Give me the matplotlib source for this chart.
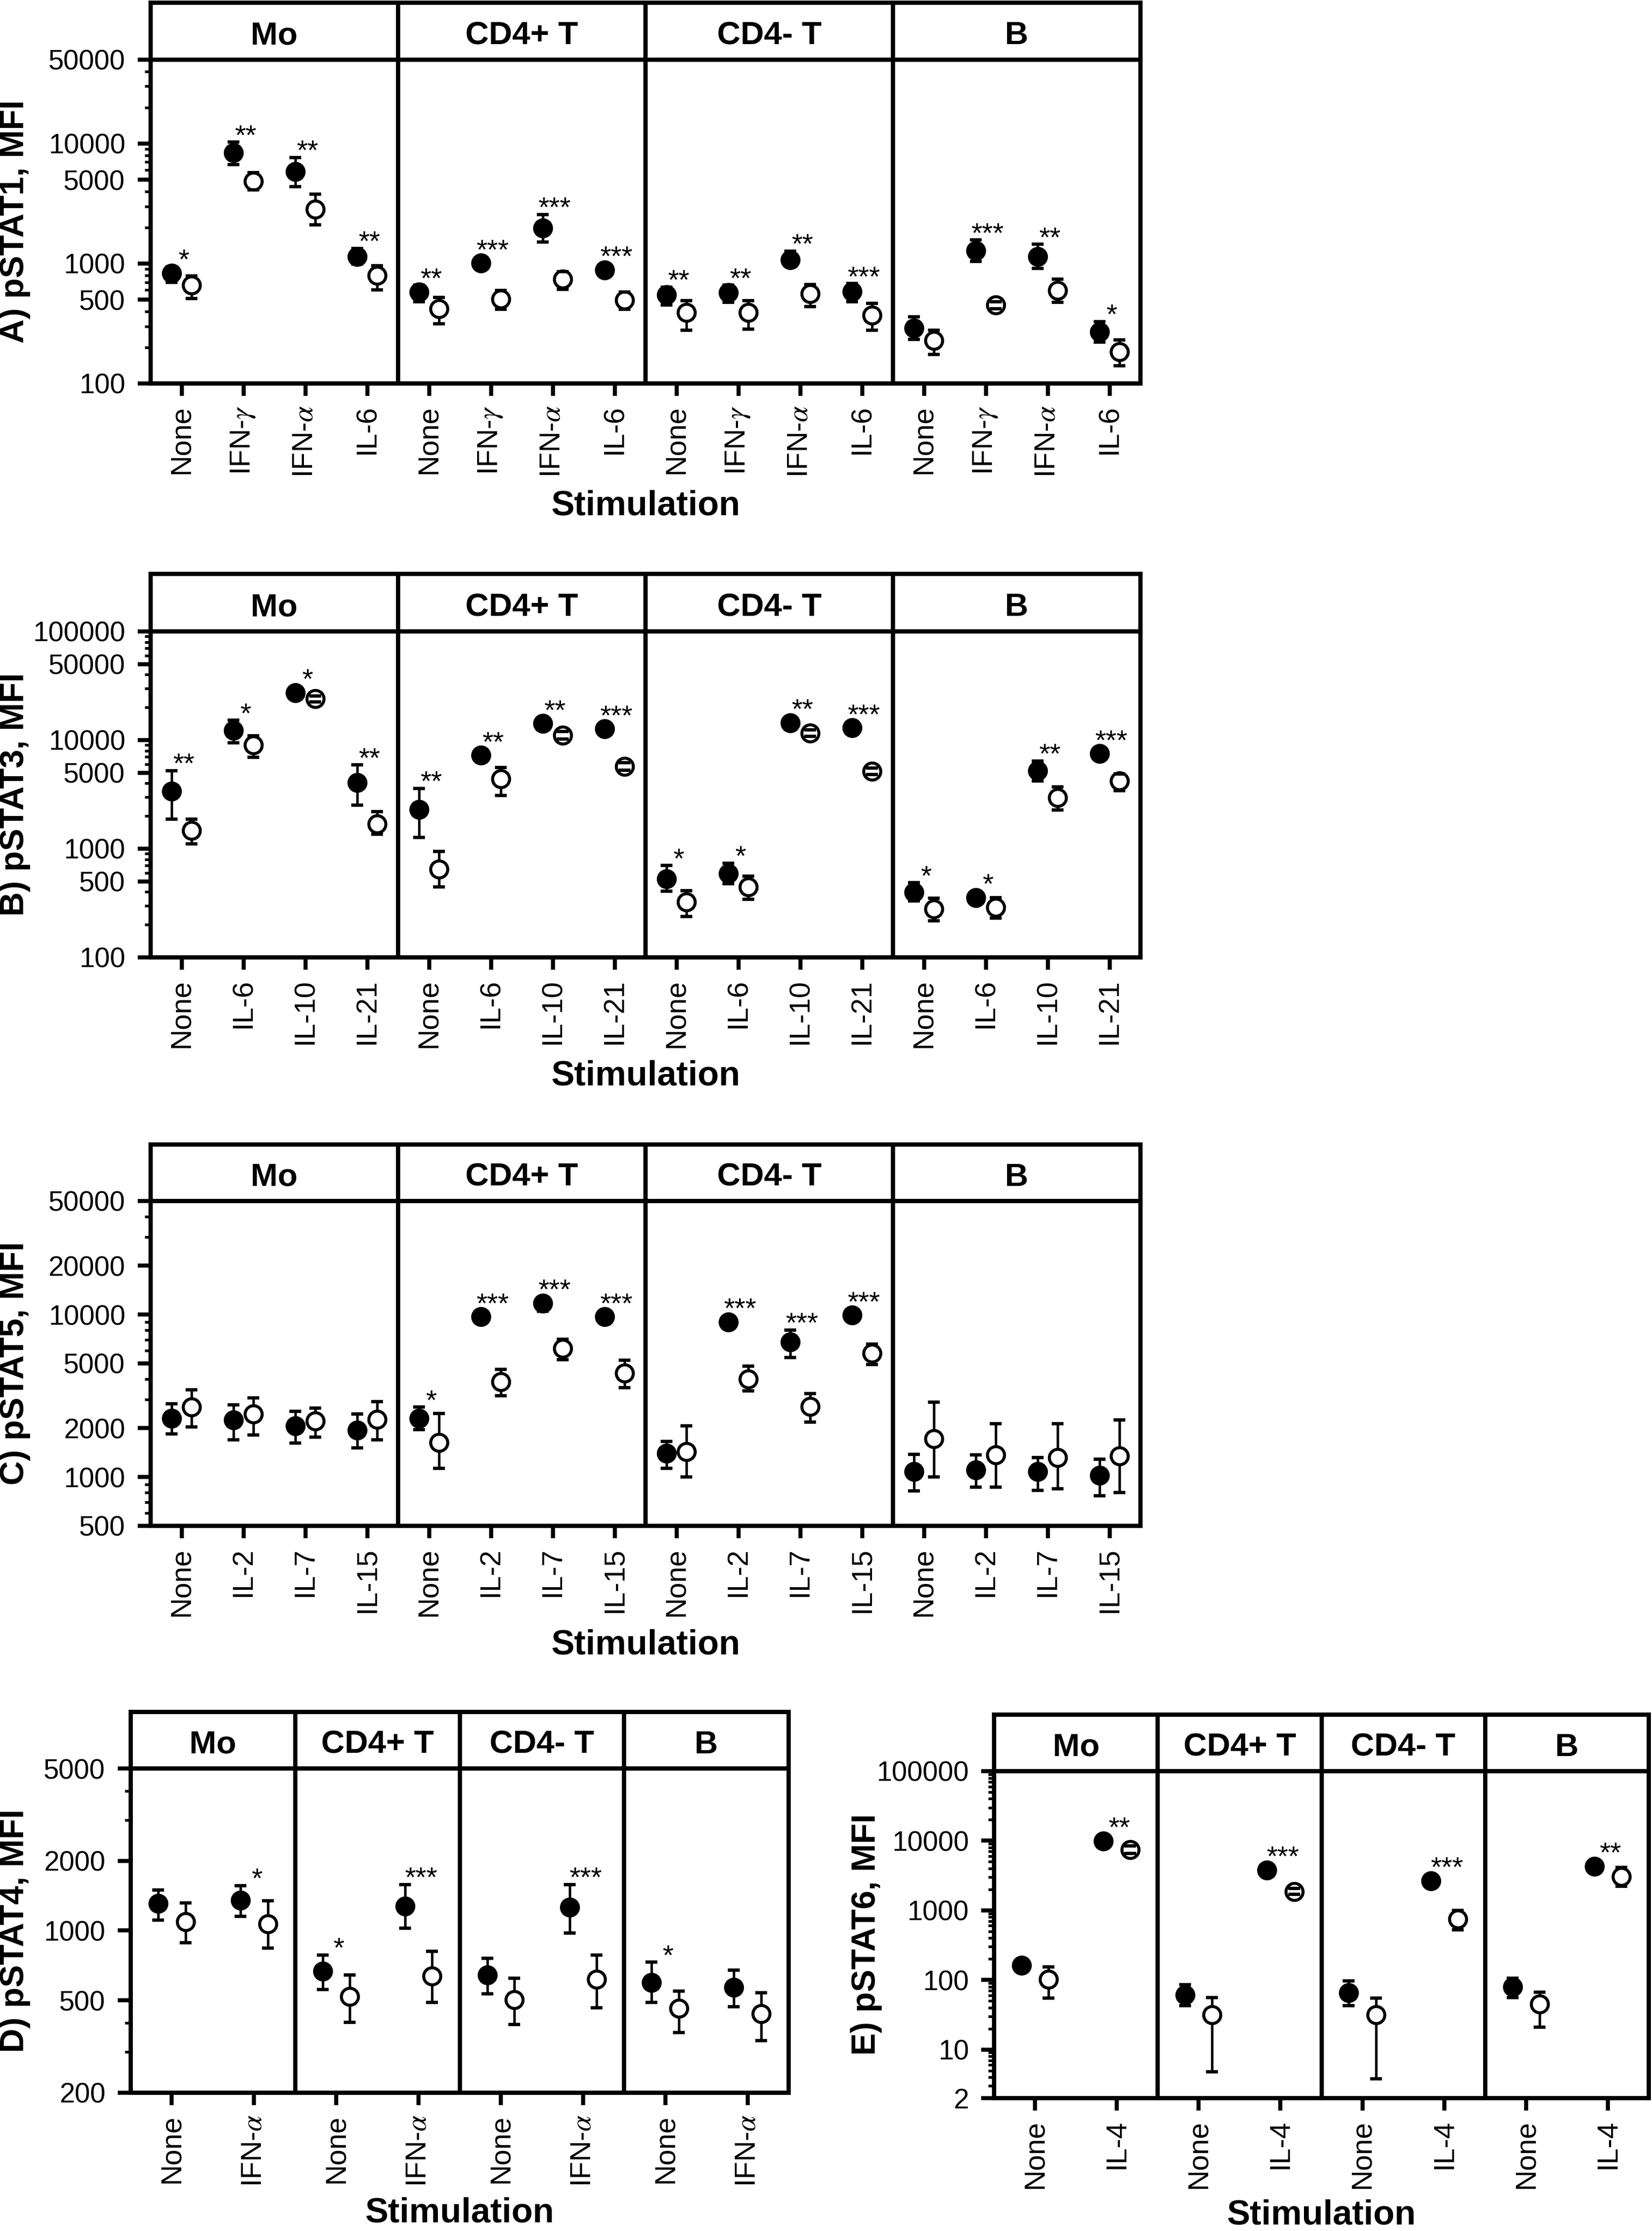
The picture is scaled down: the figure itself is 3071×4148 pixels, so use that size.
import numpy as np
import matplotlib.pyplot as plt
from matplotlib.ticker import FixedLocator, NullFormatter, FuncFormatter

plt.rcParams['font.family'] = ['Liberation Sans', 'DejaVu Sans']
plt.rcParams['mathtext.fontset'] = 'stix'

W, H = 3071, 4148
DPI = 300

cells = ['Mo', 'CD4+ T', 'CD4- T', 'B']

# A) pSTAT1
stim_a = ['None', 'IFN-$\\gamma$', 'IFN-$\\alpha$', 'IL-6']
a_fill    = [828, 8380, 5850, 1148, 577, 1007, 1974, 883, 548, 570, 1074, 585, 290, 1282, 1148, 270]
a_fill_lo = [693, 6660, 4390, 987, 481, 900, 1510, 800, 450, 474, 990, 481, 234, 1040, 912, 221]
a_fill_hi = [942, 10260, 7650, 1333, 658, 1110, 2564, 970, 637, 658, 1265, 680, 360, 1570, 1442, 327]
a_open    = [658, 4840, 2830, 800, 422, 507, 740, 497, 390, 390, 558, 370, 228, 450, 597, 184]
a_open_lo = [513, 4110, 2110, 604, 316, 416, 608, 416, 277, 285, 438, 277, 174, 420, 474, 141]
a_open_hi = [785, 5700, 3770, 961, 520, 597, 855, 577, 490, 490, 667, 465, 277, 480, 740, 231]
a_stars = ['*', '**', '**', '**', '**', '***', '***', '***', '**', '**', '**', '***', '', '***', '**', '*']

# B) pSTAT3
stim_b = ['None', 'IL-6', 'IL-10', 'IL-21']
b_fill    = [3377, 12290, 27300, 4050, 2297, 7230, 14190, 12650, 531, 592, 14420, 12940, 397, 356, 5220, 7500]
b_fill_lo = [1862, 9460, 25000, 2525, 1268, 6600, 13000, 11800, 406, 476, 13500, 12000, 330, 330, 4200, 7000]
b_fill_hi = [5220, 15170, 29500, 5900, 3580, 7900, 15300, 13500, 700, 736, 15400, 13900, 486, 385, 6400, 8100]
b_open    = [1466, 8990, 23930, 1694, 645, 4420, 11020, 5740, 324, 443, 11580, 5140, 280, 290, 2965, 4200]
b_open_lo = [1113, 6980, 22500, 1364, 443, 3095, 10200, 5300, 239, 343, 10800, 4800, 217, 230, 2265, 3430]
b_open_hi = [1862, 10940, 25500, 2185, 948, 5610, 12000, 6200, 412, 562, 12400, 5500, 351, 356, 3710, 4850]
b_stars = ['**', '*', '*', '**', '**', '**', '**', '***', '*', '*', '**', '***', '*', '*', '**', '***']

# C) pSTAT5
stim_c = ['None', 'IL-2', 'IL-7', 'IL-15']
c_fill    = [2303, 2248, 2060, 1945, 2292, 9670, 11730, 9670, 1400, 8990, 6790, 9910, 1083, 1109, 1083, 1023]
c_fill_lo = [1844, 1698, 1618, 1505, 1963, 9000, 10500, 9000, 1127, 8400, 5420, 9300, 822, 863, 830, 765]
c_fill_hi = [2818, 2780, 2537, 2440, 2688, 10300, 12600, 10300, 1658, 9600, 8050, 10500, 1380, 1367, 1315, 1289]
c_open    = [2688, 2440, 2215, 2269, 1634, 3863, 6170, 4357, 1434, 4015, 2717, 5770, 1715, 1367, 1321, 1346]
c_open_lo = [2030, 1808, 1757, 1698, 1127, 3153, 5290, 3555, 998, 3387, 2184, 4920, 998, 863, 843, 802]
c_open_hi = [3452, 3075, 2662, 2916, 2465, 4614, 7065, 5237, 2060, 4800, 3260, 6570, 2890, 2132, 2132, 2238]
c_stars = ['', '', '', '', '*', '***', '***', '***', '', '***', '***', '***', '', '', '', '']

# D) pSTAT4
stim_d = ['None', 'IFN-$\\alpha$']
d_fill    = [1306, 1352, 667, 1274, 645, 1262, 599, 570]
d_fill_lo = [1107, 1151, 556, 1026, 534, 975, 491, 471]
d_fill_hi = [1499, 1562, 785, 1577, 758, 1577, 730, 676]
d_open    = [1092, 1069, 519, 638, 503, 617, 463, 439]
d_open_lo = [888, 840, 403, 490, 394, 465, 364, 336]
d_open_hi = [1319, 1343, 645, 815, 623, 785, 549, 541]
d_stars = ['', '*', '*', '***', '', '***', '*', '']

# E) pSTAT6
stim_e = ['None', 'IL-4']
e_fill    = [162, 9890, 61, 3810, 65, 2665, 80, 4280]
e_fill_lo = [150, 9000, 43, 3500, 43, 2450, 56, 3900]
e_fill_hi = [175, 10800, 85, 4150, 97, 2900, 105, 4700]
e_open    = [103, 7420, 31.5, 1850, 31.5, 747, 45, 3030]
e_open_lo = [55, 6600, 4.8, 1700, 3.8, 524, 21, 2200]
e_open_hi = [153, 8500, 56, 2050, 55, 995, 67, 4130]
e_stars = ['', '**', '', '***', '', '***', '', '**']


fig = plt.figure(figsize=(W / DPI, H / DPI), dpi=DPI)


def rect(x0, y0, x1, y1):
    return [x0 / W, 1 - y1 / H, (x1 - x0) / W, (y1 - y0) / H]


def log_minors(lo, hi, majors):
    out = []
    for e in range(int(np.floor(np.log10(lo))), int(np.ceil(np.log10(hi))) + 1):
        for m in range(1, 10):
            v = m * 10.0 ** e
            if lo < v < hi and v not in majors:
                out.append(v)
    return out


def panel(box, label, label_x, stim_x, stim, data, stars, ylim, majors, minors=None):
    x0, x1, y_head, y_top, y_bot, y_stim = box
    fill, fill_lo, fill_hi, opn, opn_lo, opn_hi = [np.array(d, float) for d in data]
    ns = len(stim)
    n = ns * len(cells)
    x = np.arange(n)
    dx = 0.165
    lw = 1.9

    ax = fig.add_axes(rect(x0, y_top, x1, y_bot))
    hd = fig.add_axes(rect(x0, y_head, x1, y_top))
    ax.set_yscale('log')
    ax.set_xlim(-0.5, n - 0.5)
    ax.set_ylim(*ylim)

    # error bars under the markers, caps over them
    for xs, v, lo, hi in [(x - dx, fill, fill_lo, fill_hi), (x + dx, opn, opn_lo, opn_hi)]:
        eb = ax.errorbar(xs, v, yerr=[v - lo, hi - v], fmt='none', ecolor='k',
                         elinewidth=1.1, capsize=2.7, capthick=1.5, zorder=2)
        for c in eb[1]:
            c.set_zorder(4)
    ax.plot(x - dx, fill, 'o', color='k', ms=8.9, mew=0, zorder=3)
    ax.plot(x + dx, opn, 'o', mfc='white', mec='k', ms=7.6, mew=1.35, zorder=3)

    for k in range(1, len(cells)):
        ax.axvline(k * ns - 0.5, color='k', lw=lw)
        hd.axvline(k * ns - 0.5, color='k', lw=lw)

    ax.yaxis.set_major_locator(FixedLocator(majors))
    ax.yaxis.set_major_formatter(FuncFormatter(lambda v, p: f'{v:g}'))
    if minors is None:
        minors = log_minors(ylim[0], ylim[1], majors)
    ax.yaxis.set_minor_locator(FixedLocator(minors))
    ax.yaxis.set_minor_formatter(NullFormatter())
    ax.set_xticks(x)
    ax.set_xticklabels(stim * len(cells))
    ax.tick_params(axis='y', which='major', direction='out', length=5.8, width=1.8,
                   pad=5.5, labelsize=12.4)
    ax.tick_params(axis='y', which='minor', direction='out', length=2.6, width=1.2)
    ax.tick_params(axis='x', which='major', direction='out', length=5.4, width=1.8,
                   pad=4.3, labelsize=12.8, labelrotation=90)
    ax.tick_params(axis='x', which='minor', bottom=False)
    for sp in ax.spines.values():
        sp.set_linewidth(lw)

    hd.set_xlim(-0.5, n - 0.5)
    hd.set_ylim(0, 1)
    hd.set_xticks([])
    hd.set_yticks([])
    for sp in hd.spines.values():
        sp.set_linewidth(lw)
    for g, name in enumerate(cells):
        hd.text(g * ns + (ns - 1) / 2, 0.27, name, ha='center', va='baseline',
                fontsize=14.5, fontweight='bold')

    # significance marks above the filled symbol
    inv = ax.transData.inverted()
    for i, s in enumerate(stars):
        if not s:
            continue
        y_hi = ax.transData.transform((x[i] - dx, fill_hi[i]))[1]
        y_c = ax.transData.transform((x[i] - dx, fill[i]))[1]
        yb = inv.transform((0, max(y_hi - 4, y_c + 8)))[1]
        ax.text(x[i] + 0.03, yb, s, ha='center', va='baseline', fontsize=12.5)

    fig.text(label_x / W, 1 - (y_top + y_bot) / 2 / H, label, rotation=90,
             ha='center', va='center', fontsize=15, fontweight='bold')
    fig.text(stim_x / W, 1 - y_stim / H, 'Stimulation', ha='center', va='center',
             fontsize=15.5, fontweight='bold')


panel((280, 2120, 5, 111, 713, 940), 'A) pSTAT1, MFI', 28, 1200, stim_a,
      [a_fill, a_fill_lo, a_fill_hi, a_open, a_open_lo, a_open_hi], a_stars,
      (100, 50000), [100, 500, 1000, 5000, 10000, 50000])
panel((280, 2120, 1067, 1174, 1780, 2001), 'B) pSTAT3, MFI', 28, 1200, stim_b,
      [b_fill, b_fill_lo, b_fill_hi, b_open, b_open_lo, b_open_hi], b_stars,
      (100, 100000), [100, 500, 1000, 5000, 10000, 50000, 100000])
panel((280, 2120, 2128, 2233, 2837, 3058), 'C) pSTAT5, MFI', 28, 1200, stim_c,
      [c_fill, c_fill_lo, c_fill_hi, c_open, c_open_lo, c_open_hi], c_stars,
      (500, 50000), [500, 1000, 2000, 5000, 10000, 20000, 50000])
panel((243, 1466, 3183, 3288, 3891, 4115), 'D) pSTAT4, MFI', 28, 854, stim_d,
      [d_fill, d_fill_lo, d_fill_hi, d_open, d_open_lo, d_open_hi], d_stars,
      (200, 5000), [200, 500, 1000, 2000, 5000], minors=[300, 400, 3000, 4000])
panel((1848, 3065, 3188, 3293, 3901, 4118), 'E) pSTAT6, MFI', 1610, 2456, stim_e,
      [e_fill, e_fill_lo, e_fill_hi, e_open, e_open_lo, e_open_hi], e_stars,
      (2, 100000), [2, 10, 100, 1000, 10000, 100000])

fig.savefig('out.png', dpi=DPI)
